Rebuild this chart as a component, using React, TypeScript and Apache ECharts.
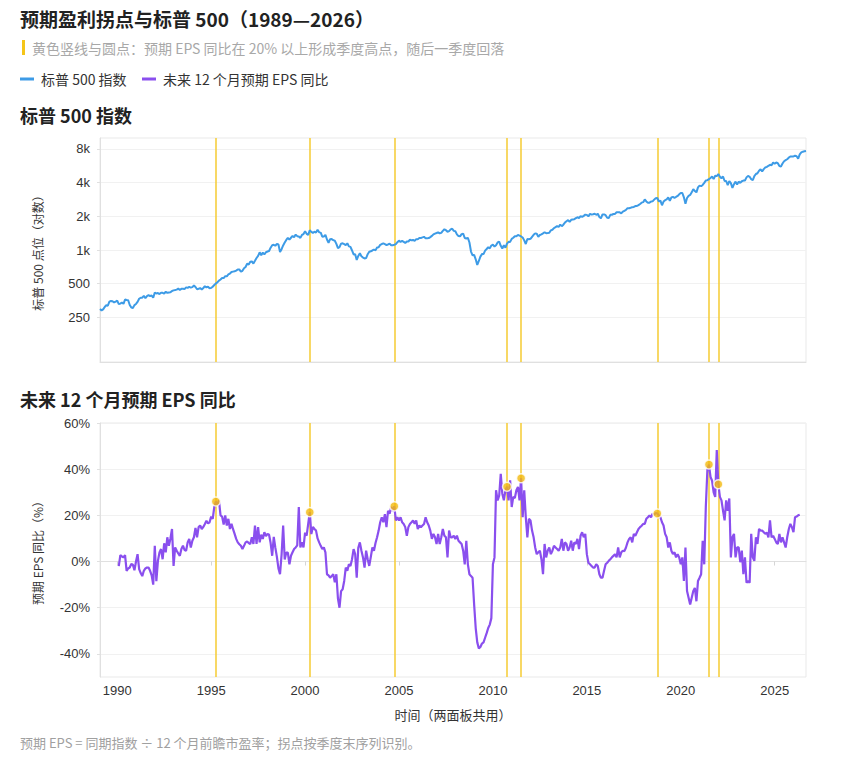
import React, { useEffect, useRef } from "react";
import * as echarts from "echarts";

// ---------- data ----------
const START_YEAR_SPX = 1989; // month-end closes from Jan 1989
const SPX_BY_YEAR: number[][] = [
  [297, 289, 295, 310, 321, 318, 346, 351, 349, 340, 346, 353],
  [329, 332, 340, 331, 361, 358, 356, 323, 306, 304, 322, 330],
  [344, 367, 375, 375, 390, 371, 388, 395, 388, 392, 375, 417],
  [409, 413, 404, 415, 415, 408, 424, 414, 418, 419, 431, 436],
  [439, 443, 452, 440, 450, 451, 448, 464, 459, 468, 462, 466],
  [482, 467, 446, 451, 457, 444, 458, 475, 463, 472, 454, 459],
  [470, 487, 501, 515, 533, 545, 562, 562, 584, 582, 605, 616],
  [636, 641, 646, 654, 669, 671, 640, 652, 687, 705, 757, 741],
  [786, 791, 757, 801, 848, 885, 954, 899, 947, 915, 955, 970],
  [980, 1049, 1102, 1112, 1091, 1134, 1121, 957, 1017, 1099, 1164, 1229],
  [1280, 1238, 1286, 1335, 1302, 1373, 1329, 1320, 1283, 1363, 1389, 1469],
  [1394, 1366, 1499, 1452, 1421, 1455, 1431, 1518, 1437, 1429, 1315, 1320],
  [1366, 1240, 1160, 1249, 1256, 1224, 1211, 1134, 1041, 1060, 1139, 1148],
  [1130, 1107, 1147, 1077, 1067, 990, 912, 916, 815, 886, 936, 880],
  [856, 841, 848, 917, 964, 975, 990, 1008, 996, 1051, 1058, 1112],
  [1131, 1145, 1126, 1107, 1121, 1141, 1102, 1104, 1115, 1130, 1174, 1212],
  [1181, 1204, 1181, 1157, 1192, 1191, 1234, 1220, 1229, 1207, 1249, 1248],
  [1280, 1281, 1295, 1311, 1270, 1270, 1277, 1304, 1336, 1378, 1401, 1418],
  [1438, 1407, 1421, 1482, 1531, 1503, 1455, 1474, 1527, 1549, 1481, 1468],
  [1379, 1331, 1323, 1386, 1400, 1280, 1267, 1283, 1166, 969, 896, 903],
  [826, 735, 798, 873, 919, 919, 987, 1021, 1057, 1036, 1096, 1115],
  [1074, 1104, 1169, 1187, 1089, 1031, 1102, 1049, 1141, 1183, 1181, 1258],
  [1286, 1327, 1326, 1364, 1345, 1321, 1292, 1219, 1131, 1253, 1247, 1258],
  [1312, 1366, 1408, 1398, 1310, 1362, 1379, 1407, 1441, 1412, 1416, 1426],
  [1498, 1515, 1569, 1598, 1631, 1606, 1686, 1633, 1682, 1757, 1806, 1848],
  [1783, 1859, 1872, 1884, 1924, 1960, 1931, 2003, 1972, 2018, 2068, 2059],
  [1995, 2105, 2068, 2086, 2107, 2063, 2104, 1972, 1920, 2079, 2080, 2044],
  [1940, 1932, 2060, 2065, 2097, 2099, 2174, 2171, 2168, 2126, 2199, 2239],
  [2279, 2364, 2363, 2384, 2412, 2423, 2470, 2472, 2519, 2575, 2648, 2674],
  [2824, 2714, 2641, 2648, 2705, 2718, 2816, 2902, 2914, 2712, 2760, 2507],
  [2704, 2784, 2834, 2946, 2752, 2942, 2980, 2926, 2977, 3038, 3141, 3231],
  [3226, 2954, 2585, 2912, 3044, 3100, 3271, 3500, 3363, 3270, 3622, 3756],
  [3714, 3811, 3973, 4181, 4204, 4298, 4395, 4523, 4308, 4605, 4567, 4766],
  [4516, 4374, 4530, 4132, 4132, 3785, 4130, 3955, 3586, 3872, 4080, 3840],
  [4077, 3970, 4109, 4169, 4180, 4450, 4589, 4508, 4288, 4194, 4568, 4770],
  [4846, 5096, 5254, 5036, 5278, 5460, 5522, 5648, 5762, 5705, 6032, 5882],
  [6041, 5955, 5612, 5569, 5912, 6205, 6339, 6460, 6688, 6840, 6849, 6845],
  [6940, 6880, 6550, 7150, 7450, 7550, 7600, 7650],
];

const START_YEAR_EPS = 1990; // forward EPS YoY (%), month-end from Jan 1990
const EPS_YOY_BY_YEAR: number[][] = [
  [-2, 2.8, 2.2, 1.8, 2.8, -4, -3, -2.6, -1, -1.4, -3.8, 0],
  [3.2, -3.3, -5, -6.3, -4, -3, -2.6, -2.6, -4, -6, -10, 6.8],
  [-8.5, 0.3, 3.9, 5.4, 1, 7.9, 4, 10.5, 6.8, 10, 14.1, -1.9],
  [6.1, 4.7, 3.5, 2.5, 5.4, 6.9, 5, 4.7, 8.3, 9.8, 6.1, 9],
  [10.5, 14.6, 10.5, 14.9, 15.6, 14.1, 15, 16.3, 17.7, 16.5, 17, 19.5],
  [18.5, 23.6, 26, 24.3, 26.5, 20, 19.5, 16, 20, 15.6, 18.5, 14.1],
  [16.3, 14, 12, 9.8, 8.3, 7.5, 6.8, 5.4, 6.8, 8.3, 8.7, 8],
  [7.6, 10.5, 7.6, 15.6, 7.6, 14.9, 8.3, 11.6, 9.8, 12.7, 11, 12],
  [11.6, 8, 2.5, 10.7, 6, 2, -3, -5.5, 3, 15.6, 0.9, 3.9],
  [3.9, -1.2, 2.5, 4, 5.4, 6.1, 7, 23.6, 6.1, 8.3, 6.1, 12.5],
  [11.2, 16.3, 21.4, 11.9, 15, 14.1, 13.4, 10, 8.3, 6.8, 5.4, 6.1],
  [4, -5.5, -6, -7, -6.3, -5.5, -9, -5.5, -16, -20, -12.8, -12],
  [-8.4, -2.6, -4, -1.2, -1.9, 1, 5.4, 3.2, -7, 6, 8.3, 4.7],
  [1.8, -2.6, 4.7, 1, -1.9, 2, 6.1, 4.7, 8, 10.5, 13.4, 17],
  [19.2, 17, 20.5, 14.9, 22, 20.7, 23.6, 22, 23.9, 17.8, 19.2, 17.8],
  [19.2, 17, 16.3, 14.9, 11.2, 14.9, 16.3, 17, 17.8, 16.3, 17.8, 14.1],
  [15.6, 14.9, 15.6, 16.3, 19.2, 17, 15.6, 13.4, 9.8, 12, 10.5, 7.6],
  [12, 7.6, 10.5, 14.1, 11.2, 10.5, 1.8, 13.4, 10.5, 10.5, 11.2, 9.8],
  [11.2, 9, 8.3, 7.6, 4.7, -1.2, 9, -1.2, -5.5, -6.3, -7, -18.6],
  [-28.8, -35, -37.6, -37, -35.5, -35, -33, -31, -28.8, -27.3, -24.5, -1.2],
  [1.8, 30.9, 26.5, 28.5, 38, 29.4, 26.5, 30.9, 32.4, 26.5, 35.2, 23.6],
  [28, 27.5, 30.9, 32.3, 26.5, 36.1, 19.2, 30.9, 19.2, 10.5, 18.5, 17.8],
  [13.4, 10.5, 6.1, 3.2, 4, 4.7, 1, -5.5, 7.6, 1.8, 4.7, 6.1],
  [3.2, 4.7, 6.8, 6.1, 5.4, 4.7, 6.1, 9.8, 4.7, 8.3, 7.6, 4.7],
  [6.1, 9, 4.7, 8.3, 7.6, 9.8, 5.4, 11.2, 12.7, 10.5, 12, 3.2],
  [-0.5, -1.2, -1.9, -2.6, -2.6, -1.2, -1.9, -5.5, -7, -7, -4, -1.2],
  [-0.5, 0.3, 1, 1.8, 2.5, 3.2, 1.8, 6.1, 1.8, 4, 4.7, 4.5],
  [6.1, 8.3, 9.8, 10.5, 8.3, 12, 11.2, 12.7, 14.1, 14.9, 15.5, 16.3],
  [16.3, 18.5, 19.2, 20, 19.2, 20.7, 20.3, 21, 20.8, 20, 19.2, 17],
  [15.6, 12, 10.5, 6.1, 8.3, 4.7, 3.2, 4, 1.8, 3.2, 1.8, -1.2],
  [1.8, -8.4, 6.1, -12.8, -15.7, -18.6, -15.7, -12.8, -11.4, -17.2, -8.4, -7],
  [-5.5, 9, -1.2, 23.6, 39.6, 42, 36.7, 35, 30, 28, 48.3, 33.5],
  [28, 26.5, 22, 17.8, 26.5, 22, 27.3, 1.8, 10.5, 12, 1.8, 6.1],
  [6.1, -0.3, 4.7, -5.5, 1.8, -9.2, -8.4, -9.2, 12, 1.8, 0.3, 10.5],
  [7.6, 14.1, 13.4, 13.4, 12.7, 12, 12.5, 10.5, 17.8, 10.5, 11.2, 9.8],
  [8.3, 7.6, 12, 8.3, 10.5, 8.3, 6.1, 10.5, 14, 16.3, 14.9, 12.7],
  [19.2, 19.5, 20, 20.3],
];

// quarter-end turning points (year-month)
const TURN_POINTS: string[] = ["1995-03", "2000-03", "2004-09", "2010-09", "2011-06", "2018-09", "2021-06", "2021-12"];

const X_TICKS = [1990, 1995, 2000, 2005, 2010, 2015, 2020, 2025];
const SPX_TICKS = [250, 500, 1000, 2000, 4000, 8000];
const EPS_TICKS = [-40, -20, 0, 20, 40, 60];

const TITLE = "预期盈利拐点与标普 500（1989—2026）";
const SUBTITLE = "黄色竖线与圆点：预期 EPS 同比在 20% 以上形成季度高点，随后一季度回落";
const LEGEND_SPX = "标普 500 指数";
const LEGEND_EPS = "未来 12 个月预期 EPS 同比";
const FOOTNOTE = "预期 EPS = 同期指数 ÷ 12 个月前瞻市盈率；拐点按季度末序列识别。";

// ---------- helpers ----------
const monthEnd = (year: number, month: number) => year + month / 12;
const ymToX = (ym: string) => {
  const [y, m] = ym.split("-").map(Number);
  return monthEnd(y, m);
};

const BLUE = "#3d9be6";
const PURPLE = "#8a4fee";
const YELLOW = "#f6cf3f";
const DOT = "#f2b90d";
const CJK = '"Noto Sans CJK SC", "Noto Sans", sans-serif';
const LATIN = '"Liberation Sans", "Noto Sans CJK SC", sans-serif';

export default function App() {
  const ref = useRef<HTMLDivElement>(null);

  useEffect(() => {
    if (!ref.current) return;
    const chart = echarts.init(ref.current, undefined, { renderer: "svg" });

    const spxData: number[][] = [];
    SPX_BY_YEAR.forEach((row, yi) =>
      row.forEach((v, mi) => spxData.push([monthEnd(START_YEAR_SPX + yi, mi + 1), Math.log10(v)]))
    );
    const epsData: number[][] = [];
    const epsMap: Record<string, number> = {};
    EPS_YOY_BY_YEAR.forEach((row, yi) =>
      row.forEach((v, mi) => {
        const y = START_YEAR_EPS + yi;
        epsData.push([monthEnd(y, mi + 1), v]);
        epsMap[`${y}-${String(mi + 1).padStart(2, "0")}`] = v;
      })
    );
    const xMin = spxData[0][0];
    const xMax = spxData[spxData.length - 1][0];
    const turnX = TURN_POINTS.map(ymToX);
    const dotData = TURN_POINTS.map((ym, i) => [turnX[i], epsMap[ym]]);

    const markLine = {
      silent: true,
      symbol: ["none", "none"],
      label: { show: false },
      lineStyle: { color: YELLOW, width: 1.6, type: "solid" },
      emphasis: { disabled: true },
      data: turnX.map((x) => ({ xAxis: x })),
      z: 1,
    };

    const axisLabelStyle = { color: "#333", fontSize: 13, fontFamily: LATIN };

    const option: any = {
      animation: false,
      textStyle: { fontFamily: CJK },
      grid: [
        { left: 100, right: 59, top: 138, height: 224, show: true, borderColor: "#e9e9e9", borderWidth: 1 },
        { left: 100, right: 59, top: 423, height: 254, show: true, borderColor: "#e9e9e9", borderWidth: 1 },
      ],
      xAxis: [
        {
          gridIndex: 0,
          type: "value",
          min: xMin,
          max: xMax,
          axisLabel: { show: false },
          axisTick: { show: false },
          splitLine: { show: false },
          axisLine: { lineStyle: { color: "#e0e0e0" } },
        },
        {
          gridIndex: 1,
          type: "value",
          min: xMin,
          max: xMax,
          name: "时间（两面板共用）",
          nameLocation: "middle",
          nameGap: 31,
          nameTextStyle: { color: "#333", fontSize: 13, fontFamily: CJK },
          axisLabel: {
            ...axisLabelStyle,
            margin: 7,
            customValues: X_TICKS,
            formatter: (v: number) => String(Math.round(v)),
          },
          axisTick: { customValues: X_TICKS, length: 4, lineStyle: { color: "#d6d6d6" } },
          splitLine: { show: false },
          axisLine: { lineStyle: { color: "#e0e0e0" } },
        },
      ],
      yAxis: [
        {
          gridIndex: 0,
          type: "value",
          min: 2,
          max: 4,
          name: "标普 500 点位（对数）",
          nameLocation: "middle",
          nameGap: 57,
          nameTextStyle: { color: "#333", fontSize: 12, fontFamily: CJK },
          axisLabel: {
            ...axisLabelStyle,
            margin: 10,
            customValues: SPX_TICKS.map((t) => Math.log10(t)),
            formatter: (v: number) => {
              const r = Math.round(Math.pow(10, v));
              return r >= 1000 ? `${r / 1000}k` : `${r}`;
            },
          },
          axisTick: { show: true, customValues: SPX_TICKS.map((t) => Math.log10(t)), length: 3, lineStyle: { color: "#e0e0e0" } },
          splitLine: { show: true, lineStyle: { color: "#f1f1f1" } },
          axisLine: { show: true, lineStyle: { color: "#e0e0e0" } },
        },
        {
          gridIndex: 1,
          type: "value",
          min: -50,
          max: 60,
          name: "预期 EPS 同比（%）",
          nameLocation: "middle",
          nameGap: 57,
          nameTextStyle: { color: "#333", fontSize: 12, fontFamily: CJK },
          axisLabel: {
            ...axisLabelStyle,
            margin: 10,
            customValues: EPS_TICKS,
            formatter: (v: number) => `${v}%`,
          },
          axisTick: { show: true, customValues: EPS_TICKS, length: 3, lineStyle: { color: "#e0e0e0" } },
          splitLine: { show: true, lineStyle: { color: "#f1f1f1" } },
          axisLine: { show: true, lineStyle: { color: "#e0e0e0" } },
        },
      ],
      series: [
        {
          name: LEGEND_SPX,
          type: "line",
          xAxisIndex: 0,
          yAxisIndex: 0,
          data: spxData,
          showSymbol: false,
          lineStyle: { color: BLUE, width: 2 },
          itemStyle: { color: BLUE },
          z: 3,
          markLine,
        },
        {
          name: LEGEND_EPS,
          type: "line",
          xAxisIndex: 1,
          yAxisIndex: 1,
          data: epsData,
          showSymbol: false,
          lineStyle: { color: PURPLE, width: 2.2 },
          itemStyle: { color: PURPLE },
          z: 3,
          markLine,
        },
        {
          type: "scatter",
          xAxisIndex: 1,
          yAxisIndex: 1,
          data: dotData,
          symbolSize: 9,
          itemStyle: { color: DOT, borderColor: "#fff", borderWidth: 1.5 },
          z: 5,
        },
      ],
      graphic: [
        {
          type: "text",
          x: 20,
          y: 18,
          style: { text: TITLE, fontSize: 19, fontWeight: "bold", fontFamily: CJK, fill: "#222", verticalAlign: "middle" },
        },
        { type: "rect", shape: { x: 22, y: 40, width: 3, height: 15 }, style: { fill: "#f5c518" } },
        {
          type: "text",
          x: 32,
          y: 47.5,
          style: { text: SUBTITLE, fontSize: 14, fontFamily: CJK, fill: "#a8a8a8", verticalAlign: "middle" },
        },
        { type: "line", shape: { x1: 20, y1: 79, x2: 34, y2: 79 }, style: { stroke: BLUE, lineWidth: 3 } },
        {
          type: "text",
          x: 41,
          y: 79,
          style: { text: LEGEND_SPX, fontSize: 14, fontFamily: CJK, fill: "#333", verticalAlign: "middle" },
        },
        { type: "line", shape: { x1: 142, y1: 79, x2: 156, y2: 79 }, style: { stroke: PURPLE, lineWidth: 3 } },
        {
          type: "text",
          x: 163,
          y: 79,
          style: { text: LEGEND_EPS, fontSize: 14, fontFamily: CJK, fill: "#333", verticalAlign: "middle" },
        },
        {
          type: "text",
          x: 20,
          y: 115,
          style: { text: LEGEND_SPX, fontSize: 18, fontWeight: "bold", fontFamily: CJK, fill: "#222", verticalAlign: "middle" },
        },
        {
          type: "text",
          x: 20,
          y: 399,
          style: { text: LEGEND_EPS, fontSize: 18, fontWeight: "bold", fontFamily: CJK, fill: "#222", verticalAlign: "middle" },
        },
        {
          type: "text",
          x: 20,
          y: 742,
          style: { text: FOOTNOTE, fontSize: 13, fontFamily: CJK, fill: "#a0a0a0", verticalAlign: "middle" },
        },
      ],
    };

    chart.setOption(option);
    return () => chart.dispose();
  }, []);

  return (
    <div
      ref={ref}
      style={{ position: "absolute", left: 0, top: 0, width: 865, height: 758, background: "#fff" }}
    />
  );
}
